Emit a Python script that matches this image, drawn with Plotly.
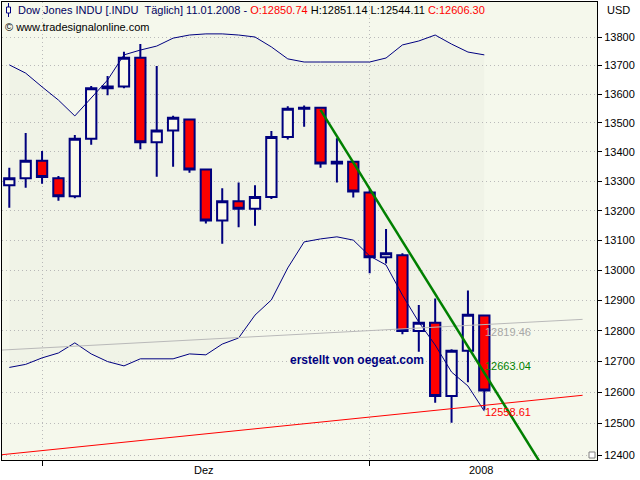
import math
import plotly.graph_objects as go

# ---------------- data ----------------
dates = ["29.11.", "30.11.", "03.12.", "04.12.", "05.12.", "06.12.", "07.12.", "10.12.",
         "11.12.", "12.12.", "13.12.", "14.12.", "17.12.", "18.12.", "19.12.", "20.12.",
         "21.12.", "24.12.", "26.12.", "27.12.", "28.12.", "31.12.", "02.01.", "03.01.",
         "04.01.", "07.01.", "08.01.", "09.01.", "10.01.", "11.01."]
opens = [13286, 13310, 13370, 13310, 13249, 13445, 13620, 13626, 13727, 13433,
         13474, 13512, 13340, 13167, 13232, 13207, 13246, 13451, 13549, 13552,
         13360, 13366, 13262, 13044, 13050, 12800, 12827, 12589, 12735, 12850.74]
highs = [13346, 13465, 13403, 13318, 13458, 13628, 13663, 13748, 13775, 13698,
         13525, 13515, 13340, 13276, 13296, 13286, 13472, 13558, 13560, 13555,
         13447, 13366, 13272, 13138, 13057, 12885, 12907, 12740, 12933, 12851.14]
lows = [13210, 13278, 13291, 13234, 13242, 13425, 13596, 13620, 13409, 13315,
        13349, 13329, 13157, 13089, 13144, 13149, 13240, 13443, 13487, 13346,
        13296, 13245, 12990, 13023, 12789, 12732, 12567, 12503, 12633, 12544.11]
closes = [13310, 13370, 13314, 13249, 13445, 13620, 13626, 13727, 13433, 13474,
          13518, 13340, 13167, 13232, 13207, 13246, 13451, 13549, 13552, 13360,
          13366, 13265, 13044, 13057, 12800, 12827, 12589, 12735, 12853, 12606.30]
upper_band = [13702, 13673, 13625, 13579, 13524, 13586, 13649, 13737, 13754, 13768,
              13796, 13807, 13811, 13811, 13807, 13800, 13765, 13723, 13712, 13712,
              13712, 13712, 13712, 13726, 13772, 13786, 13807, 13775, 13747, 13737]
lower_band = [12681, 12691, 12712, 12728, 12761, 12725, 12700, 12686, 12709, 12709,
              12709, 12725, 12722, 12757, 12777, 12852, 12902, 13008, 13095, 13105,
              13112, 13101, 13048, 13018, 12918, 12829, 12754, 12666, 12621, 12540]
# trend lines (bar index, price)
green_x = [19, 33]
green_y = [13545, 12327]
gray_x = [-1, 35]
gray_y = [12736, 12838]
red_x = [-1, 35]
red_y = [12398, 12591]
label_values = [12819.46, 12663.04, 12558.61]
y_ticks = list(range(12400, 13801, 100))
month_tick_bars = [2, 22]
month_labels = ["Dez", "2008"]
month_label_pos = [11.9, 28.8]

x = list(range(len(closes)))

# ---------------- geometry helpers ----------------
L, R, T, B = 2, 597, 2, 460
def px(v):
    return (v - L) / (R - L)
def py(v):
    return (B - v) / (B - T)

K = 3907.6  # pixels per ln unit
def price_at(ypix):
    return 13800 * math.exp(-(ypix - 37) / K)
yrange = [math.log10(price_at(B)), math.log10(price_at(T))]
bar_px = 16.38
x0 = 9.3
xrange = [(L - x0) / bar_px, (R - x0) / bar_px]

NAVY = "#000080"
FONT = "Liberation Sans"

fig = go.Figure()
fig.add_trace(go.Candlestick(
    x=x, open=opens, high=highs, low=lows, close=closes,
    increasing=dict(line=dict(color=NAVY, width=2), fillcolor="#FFFFF0"),
    decreasing=dict(line=dict(color=NAVY, width=2), fillcolor="#FF0000"),
    whiskerwidth=0, showlegend=False, hoverinfo="skip"))
fig.add_trace(go.Scatter(x=x, y=lower_band, mode="lines",
                         line=dict(color=NAVY, width=1), showlegend=False, hoverinfo="skip"))
fig.add_trace(go.Scatter(x=x, y=upper_band, mode="lines", fill="tonexty",
                         fillcolor="rgba(0,0,0,0.02)",
                         line=dict(color=NAVY, width=1), showlegend=False, hoverinfo="skip"))
fig.add_trace(go.Scatter(x=gray_x, y=gray_y, mode="lines",
                         line=dict(color="#B9B9B9", width=1), showlegend=False, hoverinfo="skip"))
fig.add_trace(go.Scatter(x=red_x, y=red_y, mode="lines",
                         line=dict(color="#FF0000", width=1), showlegend=False, hoverinfo="skip"))
fig.add_trace(go.Scatter(x=green_x, y=green_y, mode="lines",
                         line=dict(color="#008000", width=2.5), showlegend=False, hoverinfo="skip"))

annotations = []
header = ('<span style="color:#000060">Dow Jones INDU [.INDU&nbsp;&nbsp;Täglich] 11.01.2008 - </span>'
          '<span style="color:#FF0000">O:12850.74</span>'
          '<span style="color:#000000"> H:12851.14 L:12544.11 </span>'
          '<span style="color:#FF0000">C:12606.30</span>')
annotations.append(dict(xref="paper", yref="paper", x=px(16), y=py(10), text=header,
                        showarrow=False, xanchor="left", yanchor="middle",
                        font=dict(family=FONT, size=11, color="#000000")))
annotations.append(dict(xref="paper", yref="paper", x=px(3), y=py(27),
                        text="© www.tradesignalonline.com",
                        showarrow=False, xanchor="left", yanchor="middle",
                        font=dict(family=FONT, size=11, color="#000000")))
annotations.append(dict(xref="paper", yref="paper", x=px(605), y=py(10), text="USD",
                        showarrow=False, xanchor="left", yanchor="middle",
                        font=dict(family=FONT, size=11, color="#000000")))
annotations.append(dict(xref="paper", yref="paper", x=px(288), y=py(360),
                        text="<b>erstellt von oegeat.com</b>",
                        showarrow=False, xanchor="left", yanchor="middle",
                        font=dict(family=FONT, size=12, color="#000080")))
label_colors = ["#A8A8A8", "#008000", "#FF0000"]
label_anchor = ["top", "bottom", "top"]
for v, c, a in zip(label_values, label_colors, label_anchor):
    annotations.append(dict(xref="x", yref="y", x=29, y=math.log10(v), text=f"{v:.2f}",
                            showarrow=False, xanchor="left", yanchor=a, xshift=0,
                            borderpad=0,
                            font=dict(family=FONT, size=11, color=c)))
for pos, lab in zip(month_label_pos, month_labels):
    annotations.append(dict(xref="x", yref="paper", x=pos, y=py(470), text=lab,
                            showarrow=False, xanchor="center", yanchor="middle",
                            font=dict(family=FONT, size=11, color="#000000")))

shapes = [
    dict(type="line", xref="paper", yref="paper", x0=px(8.5), x1=px(8.5), y0=py(3), y1=py(17),
         line=dict(color=NAVY, width=1)),
    dict(type="rect", xref="paper", yref="paper", x0=px(6.5), x1=px(10.5), y0=py(7), y1=py(13),
         line=dict(color=NAVY, width=1), fillcolor="#FFFFF0"),
    dict(type="rect", xref="paper", yref="paper", x0=px(589), x1=px(595), y0=py(452), y1=py(458),
         line=dict(color="#808080", width=1), fillcolor="#FFFFFF"),
]

fig.update_layout(
    width=640, height=480,
    margin=dict(l=L, r=640 - R, t=T, b=480 - B, pad=0),
    paper_bgcolor="#FFFFFF", plot_bgcolor="#F5F8EC",
    boxmode="group", boxgap=0.3, boxgroupgap=0.1,
    showlegend=False,
    annotations=annotations, shapes=shapes,
    font=dict(family=FONT, size=11, color="#000000"),
    xaxis=dict(range=xrange, tickvals=month_tick_bars, showticklabels=False,
               ticks="outside", ticklen=5, tickcolor="#000000",
               showgrid=True, gridcolor="#BBBBBB", griddash="1px,3px", gridwidth=1,
               showline=True, linecolor="#000000", linewidth=1, mirror=True,
               zeroline=False, rangeslider=dict(visible=False), fixedrange=True),
    yaxis=dict(type="log", range=yrange, side="right",
               tickvals=y_ticks, ticktext=[str(t) for t in y_ticks],
               ticks="outside", ticklen=4, tickcolor="#000000",
               tickfont=dict(family=FONT, size=11, color="#000000"),
               showgrid=True, gridcolor="#BBBBBB", griddash="1px,3px", gridwidth=1,
               showline=True, linecolor="#000000", linewidth=1, mirror=True,
               zeroline=False, fixedrange=True),
)

fig.write_html("out.html", config={"displayModeBar": False},
               post_script="document.body.style.margin='0px';")
